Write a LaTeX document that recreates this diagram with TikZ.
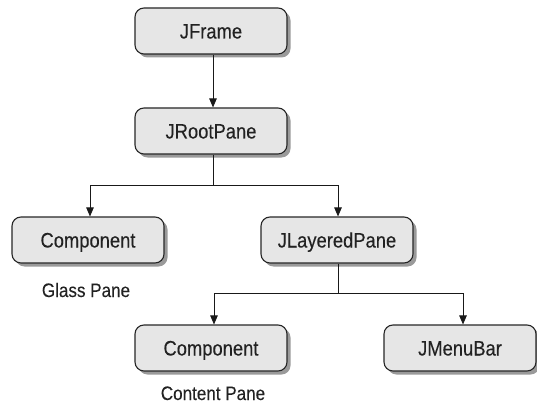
\documentclass[tikz,border=0pt]{standalone}
\usepackage{fontspec}
\setmainfont{Liberation Sans}[FakeStretch=0.875,FakeBold=0.2]
\usetikzlibrary{arrows.meta,shadows}
\definecolor{boxfill}{HTML}{E6E6E6}
\definecolor{shadowgray}{HTML}{9A9A9A}
\definecolor{ink}{HTML}{222222}
\tikzset{
  cls/.style={draw=black!85, line width=1.1pt, fill=boxfill, rounded corners=9pt,
    minimum width=152pt, minimum height=46pt, inner sep=0pt, text=ink,
    text height=15pt, text depth=0pt,
    font=\fontsize{21}{23}\selectfont,
    drop shadow={shadow xshift=3.5pt, shadow yshift=-3.5pt, fill=shadowgray, opacity=1}},
  lbl/.style={font=\fontsize{19.5}{21}\selectfont, inner sep=0pt, anchor=base, text=ink},
  conn/.style={line width=0.9pt, draw=black!90},
  arr/.style={conn, -{Triangle[length=9pt,width=7.5pt]}}
}
\begin{document}
\begin{tikzpicture}[x=1pt,y=1pt]
\useasboundingbox (0,0) rectangle (537,-406);
\node[cls] (jframe) at (211,-31) {JFrame};
\node[cls] (jroot) at (211,-131) {JRootPane};
\node[cls] (comp1) at (88,-240) {Component};
\node[cls] (jlayer) at (337,-240) {JLayeredPane};
\node[cls] (comp2) at (211,-348) {Component};
\node[cls] (jmenu) at (460,-348) {JMenuBar};
\node[lbl] (glass) at (86,-297) {Glass Pane};
\node[lbl] (content) at (213,-400) {Content Pane};
\coordinate (r1) at (213,-185);
\coordinate (r2) at (338,-293);
\draw[arr] (jframe.south -| 213,0) -- (jroot.north -| 213,0);
\draw[conn] (jroot.south -| r1) -- (r1);
\draw[arr] (r1) -| ([xshift=2pt]comp1.north);
\draw[arr] (r1) -| ([xshift=1pt]jlayer.north);
\draw[conn] (jlayer.south -| r2) -- (r2);
\draw[arr] (r2) -| ([xshift=3pt]comp2.north);
\draw[arr] (r2) -| ([xshift=3pt]jmenu.north);
\end{tikzpicture}
\end{document}
